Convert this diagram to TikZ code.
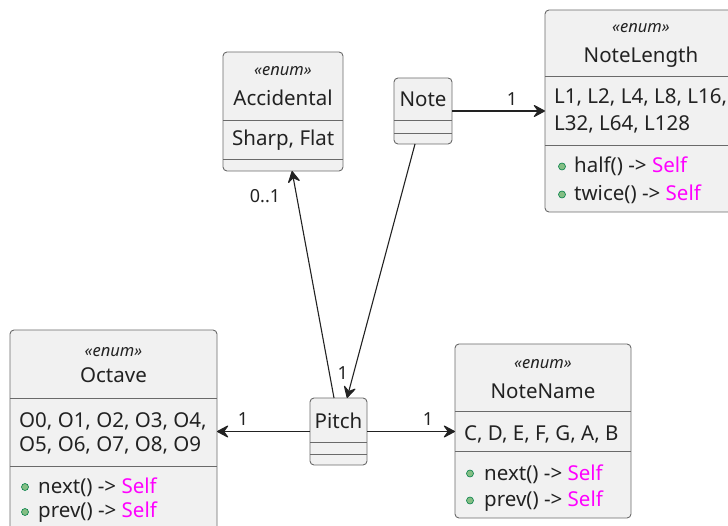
\documentclass[tikz,border=0pt]{standalone}
\usepackage{fontspec}
\setmainfont{Noto Sans}
\usetikzlibrary{arrows.meta,calc}
\definecolor{boxfill}{HTML}{F1F1F1}
\definecolor{boxline}{HTML}{6A6A6A}
\definecolor{selfcol}{HTML}{FF00FF}
\definecolor{dotfill}{HTML}{84BE84}
\definecolor{dotline}{HTML}{038048}
\definecolor{txt}{HTML}{222222}
\tikzset{
  cls/.style={draw=boxline, fill=boxfill, line width=0.9pt, rounded corners=4pt,
    inner sep=0pt, outer sep=0pt},
  sepline/.style={draw=boxline, line width=0.9pt},
  stereo/.style={anchor=base, font=\fontsize{16.5}{18}\selectfont\itshape, text=txt, inner sep=0pt},
  cname/.style={anchor=base, font=\fontsize{20.5}{23}\selectfont, text=txt, inner sep=0pt},
  member/.style={anchor=base west, font=\fontsize{20.5}{23}\selectfont, text=txt, inner sep=0pt},
  mult/.style={anchor=base, font=\fontsize{18}{20}\selectfont, text=txt, inner sep=0pt},
  pubdot/.style={draw=dotline, fill=dotfill, line width=0.6pt},
  assoc/.style={draw=txt, line width=1.1pt,
    -{Stealth[length=13pt, width=14pt, inset=5pt, round]}},
}
\newcommand{\selfret}{\textcolor{selfcol}{Self}}
\begin{document}
\begin{tikzpicture}[x=1pt, y=-1pt]
\useasboundingbox (0,0) rectangle (728,526);

% ---- class boxes ----
\node[cls, minimum width=120pt, minimum height=119pt] (Accidental) at (283,111.5) {};
\node[cls, minimum width=58pt, minimum height=66pt] (Note) at (423,111) {};
\node[cls, minimum width=200pt, minimum height=202pt] (NoteLength) at (645,111) {};
\node[cls, minimum width=207pt, minimum height=220pt] (Octave) at (113.5,440) {};
\node[cls, minimum width=176pt, minimum height=174pt] (NoteName) at (543,431) {};
\node[cls, minimum width=57pt, minimum height=67pt] (Pitch) at (338.5,431.5) {};

% ---- compartment separators ----
\draw[sepline] (223,120) -- (343,120);
\draw[sepline] (223,159) -- (343,159);
\draw[sepline] (394,120) -- (452,120);
\draw[sepline] (394,133) -- (452,133);
\draw[sepline] (545,76) -- (745,76);
\draw[sepline] (545,145) -- (745,145);
\draw[sepline] (10,398) -- (217,398);
\draw[sepline] (10,466) -- (217,466);
\draw[sepline] (455,411) -- (631,411);
\draw[sepline] (455,451) -- (631,451);
\draw[sepline] (310,442) -- (367,442);
\draw[sepline] (310,454) -- (367,454);

% ---- Accidental ----
\node[stereo] (accSt) at (283,76) {«enum»};
\node[cname] (accName) at (283,105.7) {Accidental};
\node[member] (accVals) at (232,146) {Sharp, Flat};

% ---- Note ----
\node[cname] (noteName) at (423,106.7) {Note};

% ---- NoteLength ----
\node[stereo] (nlSt) at (641,33) {«enum»};
\node[cname] (nlName) at (641,62.7) {NoteLength};
\node[member] (nlVals1) at (554,104) {L1, L2, L4, L8, L16,};
\node[member] (nlVals2) at (554,130.7) {L32, L64, L128};
\fill[pubdot] (562,166.5) circle (3.5pt);
\node[member] (nlHalf) at (574,173) {half() -> \selfret};
\fill[pubdot] (562,194.5) circle (3.5pt);
\node[member] (nlTwice) at (574,201) {twice() -> \selfret};

% ---- Octave ----
\node[stereo] (octSt) at (113.5,356) {«enum»};
\node[cname] (octName) at (113.5,383) {Octave};
\node[member] (octVals1) at (19,427.3) {O0, O1, O2, O3, O4,};
\node[member] (octVals2) at (19,451.7) {O5, O6, O7, O8, O9};
\fill[pubdot] (25,487) circle (3.5pt);
\node[member] (octNext) at (38,493) {next() -> \selfret};
\fill[pubdot] (25,512) circle (3.5pt);
\node[member] (octPrev) at (38,517.5) {prev() -> \selfret};

% ---- NoteName ----
\node[stereo] (nnSt) at (543,369) {«enum»};
\node[cname] (nnName) at (543,398) {NoteName};
\node[member] (nnVals) at (464,440) {C, D, E, F, G, A, B};
\fill[pubdot] (470,473.5) circle (3.5pt);
\node[member] (nnNext) at (484,480) {next() -> \selfret};
\fill[pubdot] (470,500.5) circle (3.5pt);
\node[member] (nnPrev) at (484,506.7) {prev() -> \selfret};

% ---- Pitch ----
\node[cname] (pitchName) at (338.5,428) {Pitch};

% ---- associations ----
\draw[assoc] (Pitch.west) -- (Pitch.west -| Octave.east);
\draw[assoc] (Pitch.east) -- (Pitch.east -| NoteName.west);
\draw[assoc] ($(Note.south)+(-8,0)$) -- ($(Pitch.north)+(8.5,0)$);
\draw[assoc] ($(Pitch.north)+(-4.5,0)$) -- ($(Accidental.south)+(9,0)$);
\draw[assoc] (Note.east) -- (Note.east -| NoteLength.west);

% ---- multiplicities ----
\node[mult] (mOct) at (243,425.7) {1};
\node[mult] (mName) at (428,425.7) {1};
\node[mult] (mPitch) at (342.7,380) {1};
\node[mult] (mAcc) at (265,203) {0..1};
\node[mult] (mLen) at (512,106) {1};
\end{tikzpicture}
\end{document}
